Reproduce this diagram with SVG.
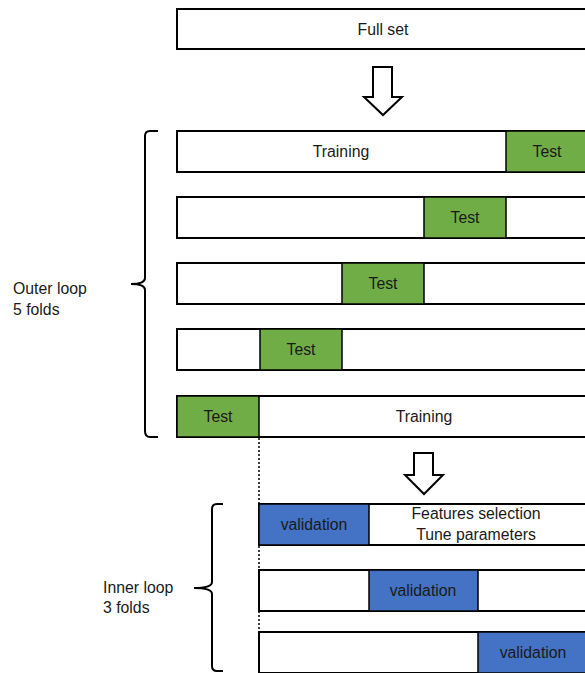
<svg xmlns="http://www.w3.org/2000/svg" width="585" height="673" viewBox="0 0 585 673">
<style>
.box{fill:#fff;stroke:#000;stroke-width:2}
.test{fill:#70AD47;stroke:#000;stroke-width:1.5}
.val{fill:#4472C4;stroke:#000;stroke-width:1.5}
.t{font-family:"Liberation Sans",Arial,sans-serif;font-size:15.8px;fill:#1a1a1a;text-anchor:middle}
.l{font-family:"Liberation Sans",Arial,sans-serif;font-size:15.8px;fill:#1a1a1a}
.brace{fill:none;stroke:#000;stroke-width:2}
.arrow{fill:#fff;stroke:#000;stroke-width:2;stroke-linejoin:miter}
.dot{stroke:#000;stroke-width:1.5;stroke-dasharray:2 2}
</style>
<rect width="585" height="673" fill="#fff"/>
<g id="fullset"><rect class="box" x="177" y="9" width="420" height="40"/><text class="t" x="383" y="35">Full set</text></g>
<g id="connectors">
<path class="arrow" d="M373,67 H392 V97 H402 L383,115 L364,97 H373 Z"/>
<path class="arrow" d="M414,453 H433 V475 H443 L424,494 L405,475 H414 Z"/>
<line class="dot" x1="259" y1="438" x2="259" y2="503"/>
<line class="dot" x1="259" y1="546" x2="259" y2="570"/>
<line class="dot" x1="259" y1="611" x2="259" y2="632"/>
</g>
<g id="outer-brace"><path class="brace" d="M158,131 H150 Q145,131 145,136 V278 Q145,284 131,284 Q145,284 145,290 V431 Q145,437 150,437 H158"/><text class="l" x="13" y="294">Outer loop</text><text class="l" x="13" y="315">5 folds</text></g>
<g id="outer1"><rect class="box" x="177" y="131" width="420" height="41"/><rect class="test" x="506" y="131" width="90" height="41"/><text class="t" x="341" y="157">Training</text><text class="t" x="547" y="157">Test</text></g>
<g id="outer2"><rect class="box" x="177" y="197" width="420" height="41"/><rect class="test" x="424" y="197" width="82" height="41"/><text class="t" x="465" y="223">Test</text></g>
<g id="outer3"><rect class="box" x="177" y="263" width="420" height="41"/><rect class="test" x="342" y="263" width="82" height="41"/><text class="t" x="383" y="289">Test</text></g>
<g id="outer4"><rect class="box" x="177" y="329" width="420" height="41"/><rect class="test" x="260" y="329" width="82" height="41"/><text class="t" x="301" y="355">Test</text></g>
<g id="outer5"><rect class="box" x="177" y="396" width="420" height="41"/><rect class="test" x="177" y="396" width="82" height="41"/><text class="t" x="218" y="422">Test</text><text class="t" x="424" y="422">Training</text></g>
<g id="inner-brace"><path class="brace" d="M223,504 H217 Q212,504 212,509 V582 Q212,588 194,588 Q212,588 212,594 V666 Q212,671 217,671 H223"/><text class="l" x="103" y="593">Inner loop</text><text class="l" x="103" y="613">3 folds</text></g>
<g id="inner1"><rect class="box" x="259" y="504" width="340" height="41"/><rect class="val" x="259" y="504" width="110" height="41"/><text class="t" x="314" y="530">validation</text><text class="t" x="476" y="519">Features selection</text><text class="t" x="476" y="540">Tune parameters</text></g>
<g id="inner2"><rect class="box" x="259" y="570" width="340" height="41"/><rect class="val" x="369" y="570" width="109" height="41"/><text class="t" x="423" y="596">validation</text></g>
<g id="inner3"><rect class="box" x="259" y="632" width="340" height="41"/><rect class="val" x="478" y="632" width="120" height="41"/><text class="t" x="533" y="658">validation</text></g>
</svg>
